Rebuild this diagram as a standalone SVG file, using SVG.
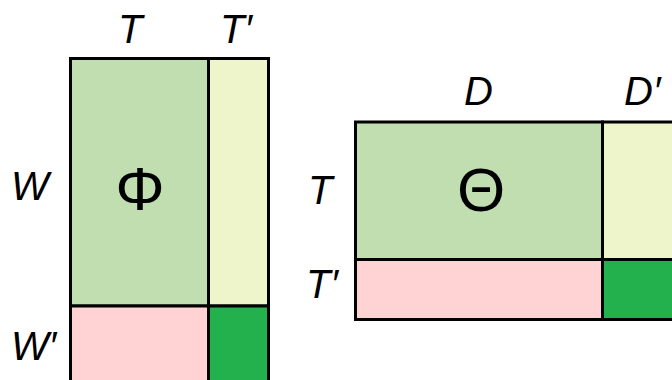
<svg xmlns="http://www.w3.org/2000/svg" width="672" height="380" viewBox="0 0 672 380">
<style>
.lbl{font-family:"Liberation Sans",Arial,sans-serif;font-style:italic;font-size:40px;fill:#000}
.gk{font-family:"Liberation Sans",Arial,sans-serif;font-size:62px;fill:#000;text-anchor:middle}
.c{stroke:#000;stroke-width:3}
.g1{fill:#C0DEB0}.y1{fill:#EEF5CA}.p1{fill:#FFD3D3}.g2{fill:#22B14C}
</style>
<rect width="672" height="380" fill="#fff"/>
<g id="phi">
<rect class="c g1" x="70.5" y="58.5" width="138" height="247.5"/>
<rect class="c y1" x="208.5" y="58.5" width="60" height="247.5"/>
<rect class="c p1" x="70.5" y="306" width="138" height="80"/>
<rect class="c g2" x="208.5" y="306" width="60" height="80"/>
<text class="gk" x="140" y="210">Φ</text>
</g>
<g id="theta">
<rect class="c g1" x="355.5" y="122" width="247" height="137.5"/>
<rect class="c y1" x="602.5" y="122" width="90" height="137.5"/>
<rect class="c p1" x="355.5" y="259.5" width="247" height="60"/>
<rect class="c g2" x="602.5" y="259.5" width="90" height="60"/>
<text class="gk" x="481" y="211">Θ</text>
</g>
<g id="labels">
<text class="lbl" x="118" y="43">T</text>
<text class="lbl" x="220" y="43">T′</text>
<text class="lbl" x="11" y="200">W</text>
<text class="lbl" x="11" y="360">W′</text>
<text class="lbl" x="464" y="105">D</text>
<text class="lbl" x="624" y="105">D′</text>
<text class="lbl" x="308" y="204">T</text>
<text class="lbl" x="306" y="298">T′</text>
</g>
<g id="connectors"/>
</svg>
